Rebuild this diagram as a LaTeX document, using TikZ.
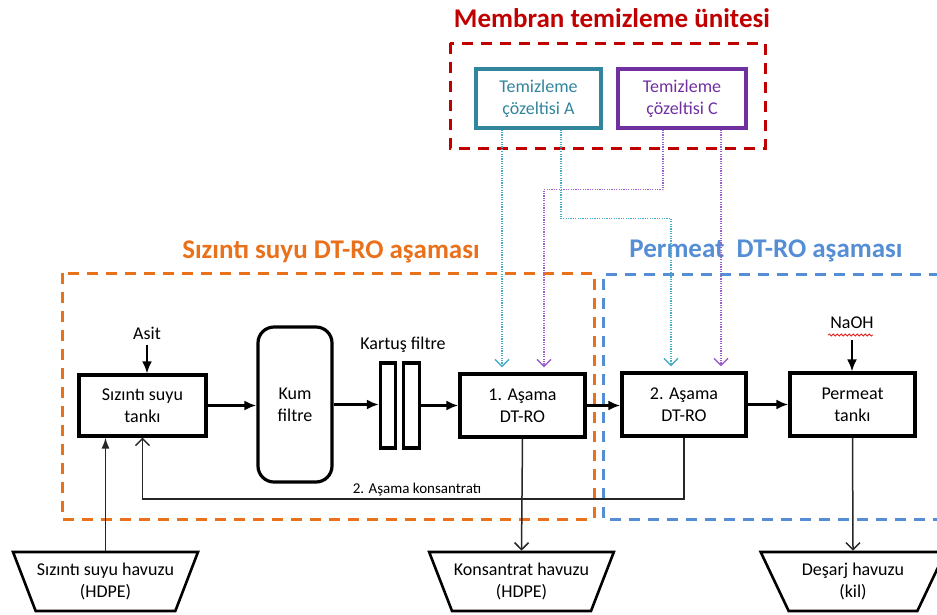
\documentclass[tikz,border=0pt]{standalone}
\usepackage{fontspec}
\setmainfont{Carlito}
\usetikzlibrary{arrows.meta,shapes.geometric,decorations.pathmorphing}

\newlength{\du}
\setlength{\du}{1pt}

\definecolor{membranred}{RGB}{192,0,0}
\definecolor{sizintiorange}{RGB}{233,113,28}
\definecolor{permeatblue}{RGB}{85,142,213}
\definecolor{cozeltiA}{RGB}{49,133,156}
\definecolor{cozeltiC}{RGB}{112,48,160}
\definecolor{lineA}{RGB}{75,172,198}
\definecolor{lineC}{RGB}{155,95,205}
\definecolor{spellred}{RGB}{230,30,30}

\tikzset{
  boxtext/.style={font=\fontsize{18}{22}\selectfont},
  procbox/.style={boxtext, draw, line width=3.2\du, inner sep=0pt, align=center},
  cozbox/.style={procbox, draw=#1, text=#1},
  pool/.style={boxtext, draw, line width=2.6\du, trapezium, shape border rotate=180,
    trapezium left angle=59, trapezium right angle=59, trapezium stretches=true,
    minimum width=185\du, minimum height=59\du, inner sep=0pt, align=center},
  title/.style={font=\fontsize{27}{32}\selectfont\bfseries, text=#1},
  region/.style={draw=#1, line width=3\du, dash pattern=on 11\du off 8\du},
  flow/.style={line width=3\du, -{Latex[length=12pt,width=10pt]}},
  thinflow/.style={line width=1.5\du, black!85, -{Latex[length=11pt,width=8pt]}},
  thinout/.style={line width=1.5\du, black!85, -{Straight Barb[length=7pt,width=14pt]}},
  dosing/.style={line width=1.4\du, dash pattern=on 1.2\du off 1.2\du,
    shorten >=5\du, -{Straight Barb[length=7pt,width=14pt]}}
}

\begin{document}
\begin{tikzpicture}
\pgftransformxscale{1.000000}
\pgftransformyscale{-1.000000}
\useasboundingbox (0\du,0\du) rectangle (937\du,614\du);

% regions
\draw[region=membranred] (450\du,43\du) rectangle (765\du,148\du);
\draw[region=sizintiorange] (62\du,273\du) rectangle (594\du,519\du);
\draw[region=permeatblue] (940\du,274\du) -- (603\du,274\du) -- (603\du,519\du) -- (940\du,519\du);

\node[title=membranred] (membrantitle) at (612\du,18\du){Membran temizleme ünitesi};
\node[title=sizintiorange] (sizintititle) at (331\du,252\du){Sızıntı suyu DT-RO aşaması};
\node[title=permeatblue] (permeattitle) at (766\du,251\du){Permeat\ \ DT-RO aşaması};

% cleaning solutions
\node[cozbox=cozeltiA, minimum width=125\du, minimum height=59\du] (cozA) at (538.5\du,98.5\du){Temizleme\\çözeltisi A};
\node[cozbox=cozeltiC, minimum width=128\du, minimum height=59\du] (cozC) at (682\du,98.5\du){Temizleme\\çözeltisi C};

% process units
\node[procbox, minimum width=127\du, minimum height=61\du] (tank) at (142.5\du,405.5\du){Sızıntı suyu\\tankı};
\node[procbox, rounded corners=16\du, minimum width=74\du, minimum height=155\du] (kum) at (295\du,404.5\du){Kum\\filtre};
\node[procbox, minimum width=15\du, minimum height=85\du] (kartus1) at (388\du,405.5\du){};
\node[procbox, minimum width=16\du, minimum height=85\du] (kartus2) at (411.5\du,405.5\du){};
\node[procbox, minimum width=125\du, minimum height=63\du] (asama1) at (522.5\du,405.5\du){1. Aşama\\DT-RO};
\node[procbox, minimum width=124\du, minimum height=63\du] (asama2) at (684\du,404.5\du){2. Aşama\\DT-RO};
\node[procbox, minimum width=125\du, minimum height=63\du] (permeat) at (852.5\du,404.5\du){Permeat\\tankı};

\node[boxtext] (asit) at (147\du,333\du){Asit};
\node[boxtext] (naoh) at (852\du,323\du){NaOH};
\node[boxtext] (kartuslabel) at (403\du,345\du){Kartuş filtre};

% pools
\node[pool] (havuz1) at (105.5\du,581.5\du){Sızıntı suyu havuzu\\(HDPE)};
\node[pool] (konsantrat) at (521.5\du,581.5\du){Konsantrat havuzu\\(HDPE)};
\node[pool] (desarj) at (853\du,581.5\du){Deşarj havuzu\\(kil)};

% main flow
\draw[flow] (tank.east) -- (tank.east -| kum.west);
\draw[flow] (kum.east) -- (kum.east -| kartus1.west);
\draw[flow] (kartus2.east) -- (asama1.west);
\draw[flow] (asama1.east) -- (asama1.east -| asama2.west);
\draw[flow] (asama2.east) -- (permeat.west);
\draw[flow, line width=2.2\du, shorten <=2\du] (asit) -- (asit |- tank.north);
\draw[flow, line width=2.2\du, shorten <=8\du] (naoh) -- (naoh |- permeat.north);
\draw[spellred, line width=0.8\du, decorate, decoration={snake, amplitude=1pt, segment length=4pt}] (828\du,335\du) -- (873\du,335\du);

\draw[thinflow] (havuz1.north) -- (havuz1.north |- tank.south);
\draw[thinout] (asama1.south) -- (konsantrat.north);
\draw[thinout] (permeat.south) -- (desarj.north);

% concentrate return
\coordinate (donus) at (684\du,499\du);
\draw[thinout] (asama2.south) -- (donus) -| (tank.south);
\node[font=\fontsize{15}{18}\selectfont] (donuslabel) at (417\du,490\du){2. Aşama konsantratı};

% cleaning lines
\draw[dosing, lineA] ([xshift=-36.5\du]cozA.south) -- ([xshift=-20.5\du]asama1.north);
\draw[dosing, lineC] ([xshift=-19\du]cozC.south) -- ++(0,60\du) -| ([xshift=21.5\du]asama1.north);
\draw[dosing, lineA] ([xshift=22.5\du]cozA.south) -- ++(0,89\du) -| ([xshift=-13\du]asama2.north);
\draw[dosing, lineC] ([xshift=39\du]cozC.south) -- ([xshift=37\du]asama2.north);
\end{tikzpicture}
\end{document}
